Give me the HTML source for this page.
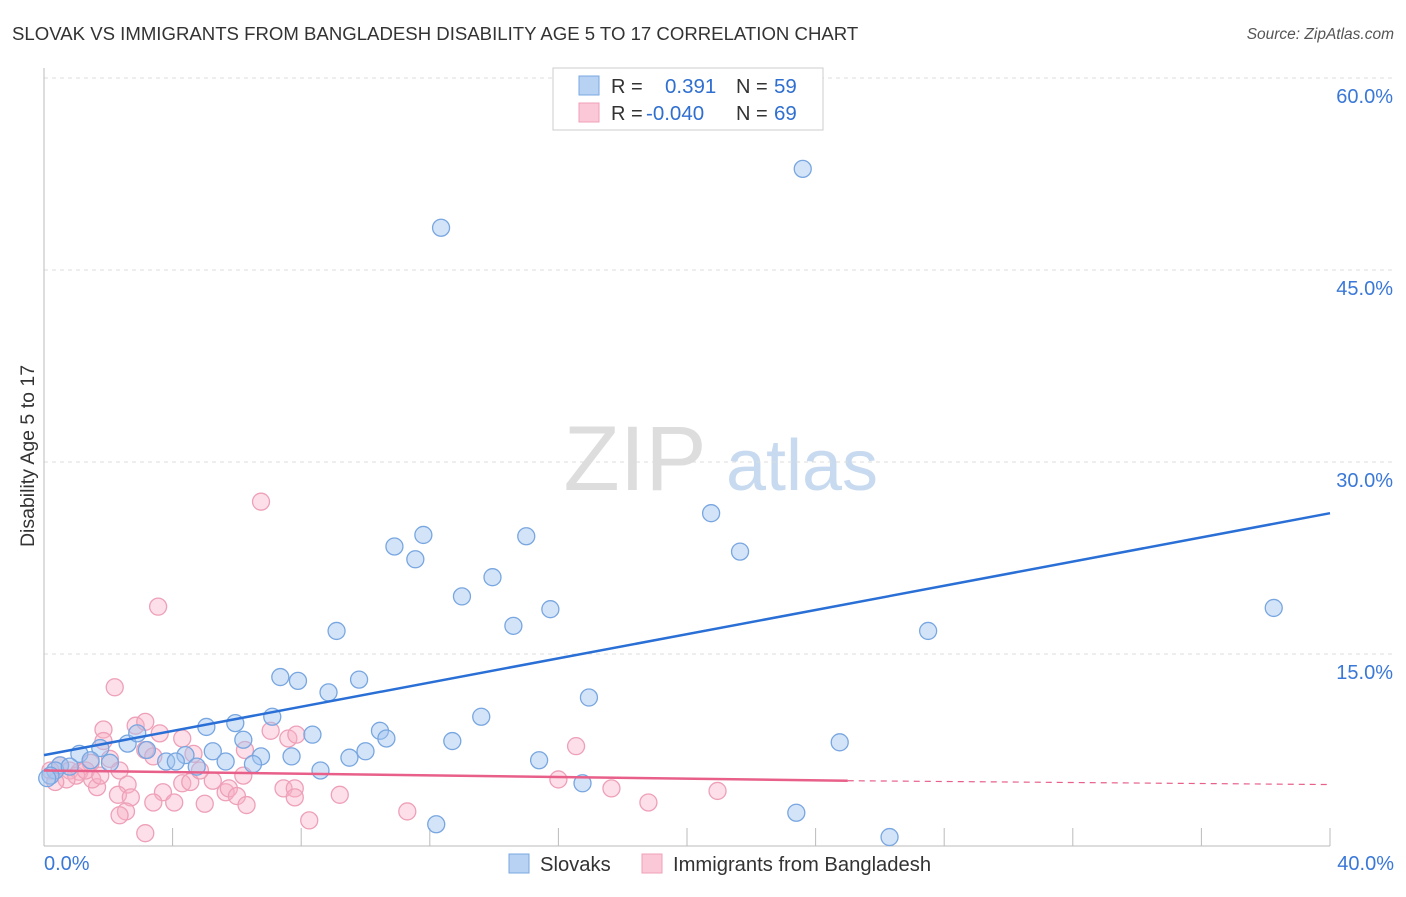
<!DOCTYPE html>
<html><head><meta charset="utf-8"><style>
body{margin:0;background:#fff;font-family:"Liberation Sans",sans-serif}
svg text{font-family:"Liberation Sans",sans-serif}
</style></head><body>
<svg id="chart" width="1406" height="892" xmlns="http://www.w3.org/2000/svg">
<text x="12" y="40" font-size="18.6" fill="#333">SLOVAK VS IMMIGRANTS FROM BANGLADESH DISABILITY AGE 5 TO 17 CORRELATION CHART</text>
<text x="1394" y="39" font-size="15.5" fill="#555" font-style="italic" text-anchor="end">Source: ZipAtlas.com</text>
<g>
<text x="635" y="490" font-size="92" fill="#ddd" font-family="Liberation Serif,serif" text-anchor="middle">ZIP</text>
<text x="802" y="490" font-size="72" fill="#c8daf0" text-anchor="middle">atlas</text>
</g>
<g id="grid"></g><g id="axes"></g><g id="pts"></g><g id="trend"></g>
<text transform="translate(34,456) rotate(-90)" font-size="19.5" fill="#333" text-anchor="middle">Disability Age 5 to 17</text>
<g>
<rect x="553" y="68" width="270" height="62" fill="#fff" stroke="#ccc"/>
<rect x="579" y="76" width="20" height="19" fill="#b8d2f4" stroke="#7aa8e0"/>
<rect x="579" y="103" width="20" height="19" fill="#fbc8d8" stroke="#f0a0b8"/>
<text x="611" y="93" font-size="20" fill="#333">R = </text><text x="665" y="93" font-size="20.5" fill="#2f6fd0">0.391</text>
<text x="736" y="93" font-size="20" fill="#333">N = </text><text x="774" y="93" font-size="20.5" fill="#2f6fd0">59</text>
<text x="611" y="120" font-size="20" fill="#333">R = </text><text x="646" y="120" font-size="20.5" fill="#2f6fd0">-0.040</text>
<text x="736" y="120" font-size="20" fill="#333">N = </text><text x="774" y="120" font-size="20.5" fill="#2f6fd0">69</text>
</g>
<g>
<rect x="509" y="854" width="20" height="19" fill="#b8d2f4" stroke="#7aa8e0"/>
<text x="540" y="871" font-size="20.2" fill="#333">Slovaks</text>
<rect x="642" y="854" width="20" height="19" fill="#fbc8d8" stroke="#f0a0b8"/>
<text x="673" y="871" font-size="20.2" fill="#333">Immigrants from Bangladesh</text>
</g>
</svg>
<script>
const blueX=[23.6,12.35,20.75,21.65,11.8,10.9,11.55,15.0,13.95,13.0,15.75,14.6,9.1,27.5,38.25,7.35,7.9,9.8,8.85,16.95,7.1,5.05,5.95,13.6,10.45,10.65,8.35,6.2,2.6,1.75,1.1,3.2,12.7,24.75,10.0,9.5,6.75,5.25,4.4,3.8,4.75,5.65,6.5,7.7,8.6,15.4,16.75,23.4,12.2,26.3,2.9,0.5,0.35,0.2,1.45,2.05,4.1,0.8,0.1];
const blueY=[52.9,48.3,26.0,23.0,24.3,23.4,22.4,24.2,21.0,19.5,18.5,17.2,16.8,16.8,18.6,13.2,12.9,13.0,12.0,11.6,10.1,9.3,9.6,10.1,9.0,8.4,8.7,8.3,8.0,7.65,7.2,7.5,8.2,8.1,7.4,6.9,7.0,7.4,7.1,6.6,6.2,6.6,6.4,7.0,5.9,6.7,4.9,2.6,1.7,0.7,8.8,6.3,5.9,5.5,6.7,6.5,6.6,6.2,5.3];
const pinkX=[6.75,3.55,2.2,2.85,3.15,1.85,3.6,4.3,1.85,6.25,4.65,3.15,7.05,7.6,7.85,3.4,2.05,1.45,2.35,0.5,0.8,1.1,0.2,2.6,1.65,1.5,2.3,2.7,3.7,4.3,4.55,5.65,5.75,6.0,5.25,6.2,7.45,7.8,7.8,4.05,3.4,5.0,6.3,9.2,2.55,2.35,8.25,3.15,16.55,16.0,17.65,18.8,20.95,11.3,1.0,0.7,0.35,1.3,1.75,4.85];
const pinkY=[26.9,18.7,12.4,9.4,9.7,9.1,8.8,8.4,8.2,7.5,7.2,7.5,9.0,8.4,8.7,7.0,6.8,6.5,5.9,6.3,5.9,5.8,5.9,4.8,4.6,5.2,4.0,3.8,4.2,4.9,5.0,4.2,4.5,3.9,5.1,5.5,4.5,4.5,3.8,3.4,3.4,3.3,3.2,4.0,2.7,2.4,2.0,1.0,7.8,5.2,4.5,3.4,4.3,2.7,5.5,5.2,5.0,5.9,5.5,5.9];
const yTicks=[15,30,45,60];
const blueTrend=[7.1,26.0];
const pinkTrend=[5.9,5.1,4.8];
const NS="http://www.w3.org/2000/svg";
const sx=v=>44+v/40*1286, sy=v=>846-v/15*192;
function mk(t,a,p){const e=document.createElementNS(NS,t);for(const k in a)e.setAttribute(k,a[k]);document.getElementById(p).appendChild(e);return e;}
yTicks.forEach(t=>{
 const l=mk('line',{x1:44,x2:1394,y1:sy(t),y2:sy(t),stroke:'#ddd','stroke-dasharray':'4,4'},'grid');
 
 
 const tx=mk('text',{x:1393,y:sy(t)+25,'font-size':20,fill:'#3a78d8','text-anchor':'end'},'grid');
 tx.textContent=t.toFixed(1)+'%';
 
 
});
mk('line',{x1:44,x2:44,y1:68,y2:846,stroke:'#bbb'},'axes');
mk('line',{x1:44,x2:1330,y1:846,y2:846,stroke:'#bbb'},'axes');
for(let i=1;i<=10;i++){const l=mk('line',{x1:sx(i*4),x2:sx(i*4),y1:828,y2:846,stroke:'#bbb'},'axes');
 
 }
const xl0=mk('text',{x:44,y:870,'font-size':20,fill:'#3a78d8'},'axes');xl0.textContent='0.0%';


const xl1=mk('text',{x:1394,y:870,'font-size':20,fill:'#3a78d8','text-anchor':'end'},'axes');xl1.textContent='40.0%';


pinkX.forEach((x,i)=>{const c=mk('circle',{cx:sx(x),cy:sy(pinkY[i]),r:8.5,fill:'rgba(248,175,198,0.4)',stroke:'#eea0b8','stroke-width':1.3},'pts');
 
 });
blueX.forEach((x,i)=>{const c=mk('circle',{cx:sx(x),cy:sy(blueY[i]),r:8.5,fill:'rgba(160,196,240,0.45)',stroke:'#78a6e0','stroke-width':1.3},'pts');
 
 });
const bt=mk('line',{x1:sx(0),y1:sy(blueTrend[0]),x2:sx(40),y2:sy(blueTrend[1]),stroke:'#2a6fd6','stroke-width':2.5},'trend');


const pt=mk('line',{x1:sx(0),y1:sy(pinkTrend[0]),x2:sx(25),y2:sy(pinkTrend[1]),stroke:'#e8608a','stroke-width':2.5},'trend');


const pd=mk('line',{x1:sx(25),y1:sy(pinkTrend[1]),x2:sx(40),y2:sy(pinkTrend[2]),stroke:'#e8608a','stroke-width':1.2,'stroke-dasharray':'6,5'},'trend');


</script>
</body></html>
